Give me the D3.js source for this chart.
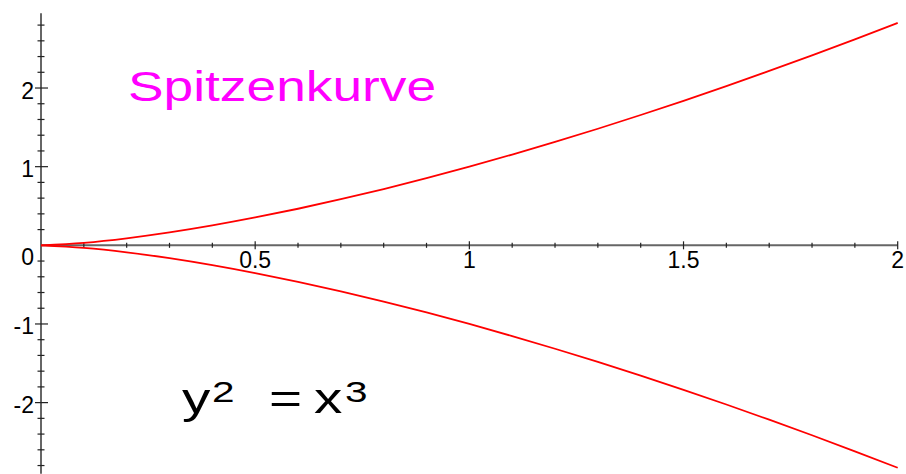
<!DOCTYPE html>
<html>
<head>
<meta charset="utf-8">
<title>Spitzenkurve</title>
<script src="https://cdn.jsdelivr.net/npm/d3@7"></script>
<style>
  body { margin: 0; background: #fff; }
  svg { display: block; font-family: "Liberation Sans", Arial, sans-serif; }
</style>
</head>
<body>
<div id="chart"></div>
<script>
    // curve y^2 = x^3 (upper and lower branch)
    var xs = [0, 0.1, 0.2, 0.3, 0.4, 0.5, 0.6, 0.7, 0.8, 0.9, 1.0,
              1.1, 1.2, 1.3, 1.4, 1.5, 1.6, 1.7, 1.8, 1.9, 2.0];
    var upper = [0, 0.032, 0.089, 0.164, 0.253, 0.354, 0.465, 0.586, 0.716, 0.854, 1.0,
                 1.154, 1.315, 1.482, 1.657, 1.837, 2.024, 2.217, 2.415, 2.619, 2.828];
    var lower = [0, -0.032, -0.089, -0.164, -0.253, -0.354, -0.465, -0.586, -0.716, -0.854, -1.0,
                 -1.154, -1.315, -1.482, -1.657, -1.837, -2.024, -2.217, -2.415, -2.619, -2.828];

    var xLabels = [0.5, 1, 1.5, 2];
    var xMinor = [0.1, 0.2, 0.3, 0.4, 0.6, 0.7, 0.8, 0.9, 1.1, 1.2, 1.3, 1.4,
                  1.6, 1.7, 1.8, 1.9];
    var yLabels = [2, 1, -1, -2];
    var yMinor = [2.8, 2.6, 2.4, 2.2, 1.8, 1.6, 1.4, 1.2, 0.8, 0.6, 0.4, 0.2,
                  -0.2, -0.4, -0.6, -0.8, -1.2, -1.4, -1.6, -1.8, -2.2, -2.4, -2.6, -2.8];

    var width = 906, height = 474;

    var svg = d3.select('#chart')
        .append('svg')
        .attr('width', width)
        .attr('height', height);

    var x = d3.scaleLinear().domain([0, 2]).range([41, 897.7]);
    var y = d3.scaleLinear().domain([2.95, -2.905]).range([13.3, 473.8]);

    // axes lines
    svg.append('line')
        .attr('x1', x(0)).attr('x2', x(2))
        .attr('y1', y(0)).attr('y2', y(0))
        .attr('stroke', '#666').attr('stroke-width', 2);
    svg.append('line')
        .attr('x1', x(0)).attr('x2', x(0))
        .attr('y1', y.range()[0]).attr('y2', y.range()[1])
        .attr('stroke', '#666').attr('stroke-width', 2);

    // x ticks
    svg.selectAll('.xminor').data(xMinor).join('line')
        .attr('x1', d => x(d)).attr('x2', d => x(d))
        .attr('y1', y(0) - 2.5).attr('y2', y(0) + 2.5)
        .attr('stroke', '#222').attr('stroke-width', 1.2);
    svg.selectAll('.xmajor').data(xLabels).join('line')
        .attr('x1', d => x(d)).attr('x2', d => x(d))
        .attr('y1', y(0) - 4).attr('y2', y(0) + 4)
        .attr('stroke', '#222').attr('stroke-width', 1.2);
    svg.selectAll('.xlabel').data(xLabels).join('text')
        .attr('x', d => x(d)).attr('y', y(0) + 23)
        .attr('text-anchor', 'middle')
        .attr('font-size', 23)
        .text(d => d);

    // y ticks
    svg.selectAll('.yminor').data(yMinor).join('line')
        .attr('x1', x(0) - 3.5).attr('x2', x(0) + 3.5)
        .attr('y1', d => y(d)).attr('y2', d => y(d))
        .attr('stroke', '#222').attr('stroke-width', 1.2);
    svg.selectAll('.ymajor').data(yLabels).join('line')
        .attr('x1', x(0) - 6).attr('x2', x(0) + 7)
        .attr('y1', d => y(d)).attr('y2', d => y(d))
        .attr('stroke', '#222').attr('stroke-width', 1.2);
    svg.selectAll('.ylabel').data(yLabels).join('text')
        .attr('x', x(0) - 7).attr('y', d => y(d) + 10.5)
        .attr('text-anchor', 'end')
        .attr('font-size', 23)
        .text(d => d);
    svg.append('text')
        .attr('x', x(0) - 7).attr('y', y(0) + 20)
        .attr('text-anchor', 'end')
        .attr('font-size', 23)
        .text('0');

    // curve
    var line = d3.line()
        .x((d, i) => x(xs[i]))
        .y(d => y(d))
        .curve(d3.curveNatural);
    [upper, lower].forEach(branch => {
        svg.append('path')
            .attr('d', line(branch))
            .attr('fill', 'none')
            .attr('stroke', '#ff0000')
            .attr('stroke-width', 1.8);
    });

    // title
    svg.append('text')
        .attr('transform', 'translate(128,101) scale(1.24,1)')
        .attr('font-size', 43)
        .attr('fill', '#ff00ff')
        .text('Spitzenkurve');

    // formula y^2 = x^3
    var formula = [
        {t: 'y', x: 182, y: 413, s: 42},
        {t: '2', x: 212, y: 401.5, s: 30},
        {t: '=', x: 269, y: 413, s: 42},
        {t: 'x', x: 314, y: 413, s: 42},
        {t: '3', x: 345, y: 401.5, s: 30}
    ];
    svg.selectAll('.formula').data(formula).join('text')
        .attr('transform', d => `translate(${d.x},${d.y}) scale(1.35,1)`)
        .attr('font-size', d => d.s)
        .attr('fill', '#000')
        .text(d => d.t);
</script>
</body>
</html>
